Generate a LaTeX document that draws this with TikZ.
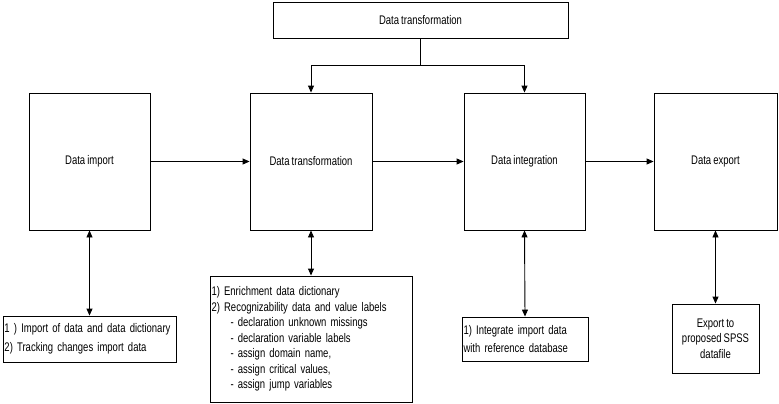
\documentclass[tikz,border=0pt]{standalone}
\usepackage{fontspec}
\setmainfont{Liberation Sans}[FakeStretch=0.76,WordSpace=0.8]
\usetikzlibrary{arrows.meta}
\newcommand{\myfnt}[1]{\fontsize{12.5}{#1}\selectfont}
\begin{document}
\begin{tikzpicture}[x=1pt,y=-1pt,
  every node/.style={font=\myfnt{15.5}},
  box/.style={draw, line width=0.9pt, inner sep=0pt, align=center},
  listbox/.style={draw, line width=0.9pt, inner xsep=1.5pt, inner ysep=0pt, align=left},
  conn/.style={line width=0.9pt},
  arr/.style={conn, -{Triangle[length=7pt,width=6pt]}},
  darr/.style={conn, {Triangle[length=7pt,width=6pt]}-{Triangle[length=7pt,width=6pt]}}
]
\useasboundingbox (0,0) rectangle (779,404);
\node[box, minimum width=295pt, minimum height=36pt] (top) at (420.5,20) {Data transformation};
\node[box, minimum width=121pt, minimum height=137pt] (imp) at (89.5,161.5) {Data import};
\node[box, minimum width=122pt, minimum height=137pt] (tr) at (311,161.5) {Data transformation};
\node[box, minimum width=121pt, minimum height=137pt] (int) at (524.5,161.5) {Data integration};
\node[box, minimum width=123pt, minimum height=137pt] (exp) at (715.5,161.5) {Data export};

\node[listbox, text width=170pt, minimum height=46pt, font=\myfnt{18.5}] (imp2) at (89.5,339)
  {1 ) Import of data and data dictionary\\2) Tracking changes import data};
\node[listbox, text width=199pt, minimum height=126pt] (tr2) at (311,339)
  {1) Enrichment data dictionary\\2) Recognizability data and value labels\\
   \hspace*{19pt}- declaration unknown missings\\
   \hspace*{19pt}- declaration variable labels\\
   \hspace*{19pt}- assign domain name,\\
   \hspace*{19pt}- assign critical values,\\
   \hspace*{19pt}- assign jump variables};
\node[listbox, text width=123pt, minimum height=44pt, font=\myfnt{18.5}] (int2) at (525,339)
  {1) Integrate import data\\with reference database};
\node[box, minimum width=87pt, minimum height=69pt] (exp2) at (715.5,338.5)
  {Export to\\proposed SPSS\\datafile};

\coordinate (jn) at (420.5,65);
\draw[conn] (top.south) -- (jn);
\draw[arr] (jn) -| (tr.north);
\draw[arr] (jn) -| (int.north);
\draw[arr] (imp.east) -- (tr.west);
\draw[arr] (tr.east) -- (int.west);
\draw[arr] (int.east) -- (exp.west);
\draw[darr] (imp.south) -- (imp2.north);
\draw[darr] (tr.south) -- (tr2.north);
\draw[darr] (int.south) -- (int2.north);
\draw[darr] (exp.south) -- (exp2.north);
\end{tikzpicture}
\end{document}
